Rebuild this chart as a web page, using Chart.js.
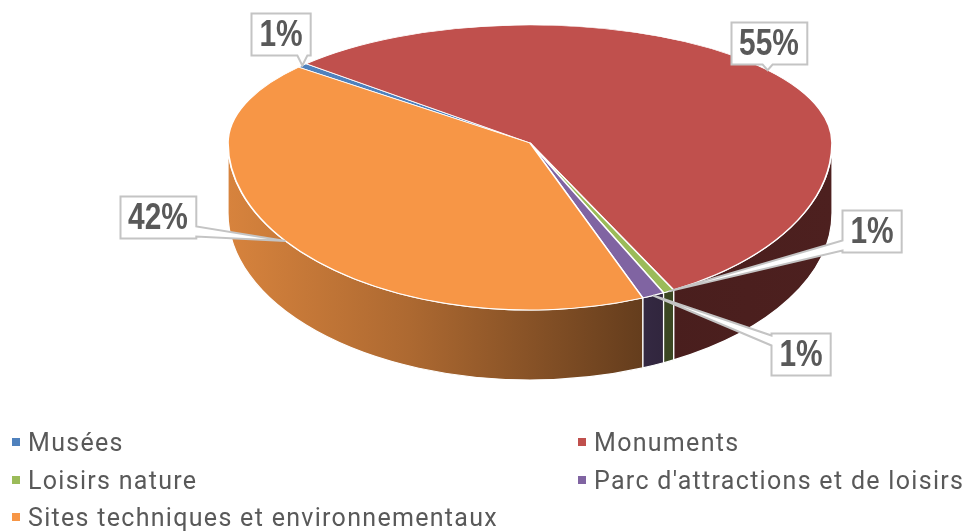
<!DOCTYPE html>
<html>
<head>
<meta charset="utf-8">
<script src="https://cdn.jsdelivr.net/npm/chart.js@4.4.0/dist/chart.umd.min.js"></script>
<style>
  html, body { margin: 0; padding: 0; background: #fff; }
  #wrap { position: relative; width: 963px; height: 531px; overflow: hidden; }
  #legend { position: absolute; left: 0; top: 0; width: 963px; height: 531px; pointer-events: none;
            font-family: Roboto, "Noto Sans", sans-serif; font-size: 25px; letter-spacing: 1.3px; color: #595959; }
  .item { position: absolute; white-space: nowrap; height: 38px; line-height: 38px; }
  .swatch { display: inline-block; width: 8px; height: 8px; margin-right: 8px; vertical-align: middle; position: relative; top: -2px; }
</style>
</head>
<body>
<div id="wrap">
  <canvas id="myChart" width="963" height="531"></canvas>
  <div id="legend"></div>
</div>
<script>
// categories and values (share of visits, %)
var categories = ['Musées', 'Monuments', 'Loisirs nature', "Parc d'attractions et de loisirs", 'Sites techniques et environnementaux'];
var shares = [0.6, 55.4, 0.6, 1.2, 42.2];
var colors = ['#4f81bd', '#c0504d', '#9bbb59', '#8064a2', '#f79646'];

// layout of the fake 3d pie
var ECX = 530, ECY = 143;      // where slices meet
var A = 302, BTOP = 118, BBOT = 167, DEPTH = 70;

// callout boxes (center) and side the pointer leaves from
var calloutPos = [[281, 34], [769, 43], [872, 231], [801, 354], [158, 217]];
var calloutSide = ['bottom', 'bottom', 'left', 'left', 'right'];

// legend: two columns
var legendCols = [12, 578];
var legendRowTop = 424, legendRowH = 37.5;

function shade(hex, f) {
  var n = parseInt(hex.slice(1), 16);
  var r = Math.round(((n >> 16) & 255) * f), g = Math.round(((n >> 8) & 255) * f), b = Math.round((n & 255) * f);
  return 'rgb(' + r + ',' + g + ',' + b + ')';
}

function clamp(v, lo, hi) { return Math.max(lo, Math.min(hi, v)); }

function edgePoint(a) {
  var s = Math.sin(a);
  return [ECX + A * Math.cos(a), ECY + (s < 0 ? BTOP : BBOT) * s];
}

function calloutPath(ctx, x0, y0, x1, y1, tx, ty, side) {
  var hw = 5, c;
  ctx.beginPath();
  ctx.moveTo(x0, y0);
  if (side === 'top') { c = clamp(tx, x0 + hw + 2, x1 - hw - 2); ctx.lineTo(c - hw, y0); ctx.lineTo(tx, ty); ctx.lineTo(c + hw, y0); }
  ctx.lineTo(x1, y0);
  if (side === 'right') { c = clamp(ty, y0 + hw + 2, y1 - hw - 2); ctx.lineTo(x1, c - hw); ctx.lineTo(tx, ty); ctx.lineTo(x1, c + hw); }
  ctx.lineTo(x1, y1);
  if (side === 'bottom') { c = clamp(tx, x0 + hw + 2, x1 - hw - 2); ctx.lineTo(c + hw, y1); ctx.lineTo(tx, ty); ctx.lineTo(c - hw, y1); }
  ctx.lineTo(x0, y1);
  if (side === 'left') { c = clamp(ty, y0 + hw + 2, y1 - hw - 2); ctx.lineTo(x0, c + hw); ctx.lineTo(tx, ty); ctx.lineTo(x0, c - hw); }
  ctx.closePath();
}

var pie3d = {
  id: 'pie3d',
  beforeDatasetsDraw: function(chart) {
    var ctx = chart.ctx;
    var meta = chart.getDatasetMeta(0);
    // side walls, only the front half (angles 0..PI) shows
    meta.data.forEach(function(arc, i) {
      var s = arc.startAngle, e = arc.endAngle;
      for (var k = -2; k <= 2; k++) {
        var lo = Math.max(s, 2 * Math.PI * k), hi = Math.min(e, 2 * Math.PI * k + Math.PI);
        if (hi <= lo) continue;
        var grad = ctx.createLinearGradient(ECX - A, 0, ECX + A, 0);
        grad.addColorStop(0, shade(colors[i], 0.87));
        grad.addColorStop(0.3, shade(colors[i], 0.7));
        grad.addColorStop(0.72, shade(colors[i], 0.38));
        grad.addColorStop(1, shade(colors[i], 0.4));
        ctx.save();
        ctx.beginPath();
        ctx.ellipse(ECX, ECY, A, BBOT, 0, lo, hi, false);
        ctx.lineTo(ECX + A * Math.cos(hi), ECY + BBOT * Math.sin(hi) + DEPTH);
        ctx.ellipse(ECX, ECY + DEPTH, A, BBOT, 0, hi, lo, true);
        ctx.closePath();
        ctx.fillStyle = grad;
        ctx.fill();
        ctx.strokeStyle = '#ffffff';
        ctx.lineWidth = 1.2;
        ctx.stroke();
        ctx.restore();
      }
    });
    // top face, back half
    var el = meta.data[0];
    ctx.save();
    ctx.beginPath();
    ctx.rect(0, 0, chart.width, ECY);
    ctx.clip();
    ctx.translate(ECX, ECY);
    ctx.scale(A / el.outerRadius, BTOP / el.outerRadius);
    ctx.translate(-el.x, -el.y);
  },
  afterDatasetsDraw: function(chart) {
    var ctx = chart.ctx;
    ctx.restore();
    var meta = chart.getDatasetMeta(0);
    var el = meta.data[0];
    // top face, front half
    ctx.save();
    ctx.beginPath();
    ctx.rect(0, ECY, chart.width, chart.height - ECY);
    ctx.clip();
    ctx.translate(ECX, ECY);
    ctx.scale(A / el.outerRadius, BBOT / el.outerRadius);
    ctx.translate(-el.x, -el.y);
    meta.data.forEach(function(arc) { arc.draw(ctx); });
    ctx.restore();
  },
  afterDraw: function(chart) {
    var ctx = chart.ctx;
    var meta = chart.getDatasetMeta(0);
    var total = shares.reduce(function(a, b) { return a + b; }, 0);
    var squeeze = 0.83;   // narrow bold look
    ctx.save();
    ctx.font = 'bold 36px "Liberation Sans", Arial, sans-serif';
    ctx.textAlign = 'center';
    ctx.textBaseline = 'middle';
    meta.data.forEach(function(arc, i) {
      var txt = Math.round(shares[i] / total * 100) + '%';
      var tip = edgePoint((arc.startAngle + arc.endAngle) / 2);
      var w = ctx.measureText(txt).width * squeeze + 16, h = 42;
      var cx = calloutPos[i][0], cy = calloutPos[i][1];
      var x0 = Math.round(cx - w / 2) + 0.5, y0 = Math.round(cy - h / 2) + 0.5;
      calloutPath(ctx, x0, y0, x0 + w, y0 + h, tip[0], tip[1], calloutSide[i]);
      ctx.fillStyle = '#ffffff';
      ctx.fill();
      ctx.strokeStyle = '#c4c4c4';
      ctx.lineWidth = 2;
      ctx.lineJoin = 'miter';
      ctx.stroke();
      ctx.fillStyle = '#595959';
      ctx.save();
      ctx.translate(cx, cy + 2);
      ctx.scale(squeeze, 1);
      ctx.fillText(txt, 0, 0);
      ctx.restore();
    });
    ctx.restore();
  }
};

window.onload = function() {
  var ctx = document.getElementById('myChart');
  var chart = new Chart(ctx, {
    type: 'pie',
    data: {
      labels: categories,
      datasets: [{
        data: shares,
        backgroundColor: colors,
        borderColor: '#ffffff',
        borderWidth: 1.5,
        clip: false
      }]
    },
    options: {
      responsive: false,
      animation: false,
      events: [],
      rotation: -50,
      plugins: {
        legend: { display: false },
        tooltip: { enabled: false }
      }
    },
    plugins: [pie3d]
  });

  // html legend
  var leg = document.getElementById('legend');
  categories.forEach(function(name, i) {
    var d = document.createElement('div');
    d.className = 'item';
    d.style.left = legendCols[i % 2] + 'px';
    d.style.top = (legendRowTop + Math.floor(i / 2) * legendRowH) + 'px';
    d.innerHTML = '<span class="swatch" style="background:' + colors[i] + '"></span>';
    d.appendChild(document.createTextNode(name));
    leg.appendChild(d);
  });
};
</script>
</body>
</html>
